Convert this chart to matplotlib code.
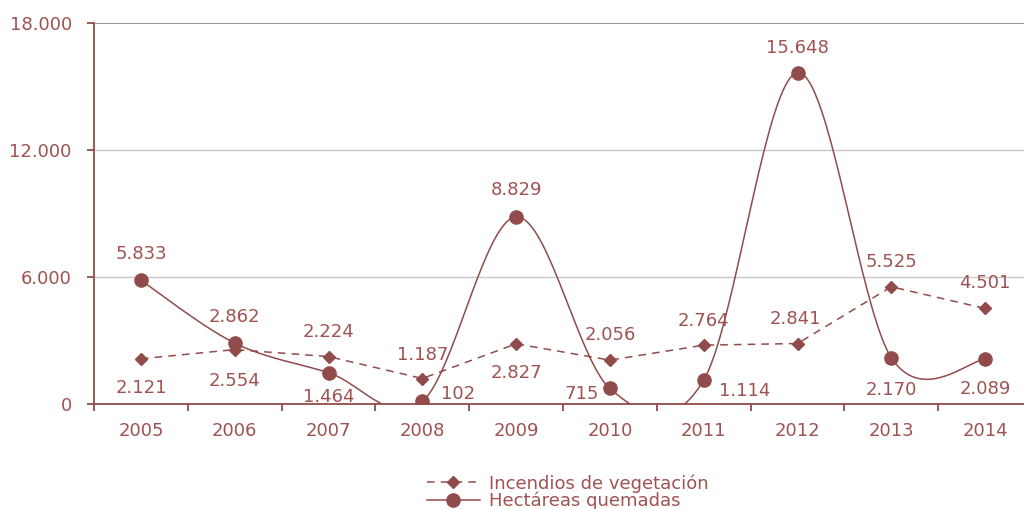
"""Incendios de vegetación y hectáreas quemadas, 2005-2014."""

import numpy as np
import matplotlib.pyplot as plt

years = ["2005", "2006", "2007", "2008", "2009",
         "2010", "2011", "2012", "2013", "2014"]
incendios = [2121, 2554, 2224, 1187, 2827, 2056, 2764, 2841, 5525, 4501]
hectareas = [5833, 2862, 1464, 102, 8829, 715, 1114, 15648, 2170, 2089]

# where each value label sits relative to its marker: (dx, dy) pixels, ha
inc_label_pos = [(0, -29, "center"), (0, -31, "center"), (0, 25, "center"),
                 (0, 24, "center"), (0, -29, "center"), (0, 25, "center"),
                 (0, 24, "center"), (-2, 25, "center"), (0, 25, "center"),
                 (0, 25, "center")]
hec_label_pos = [(0, 26, "center"), (0, 26, "center"), (0, -24, "center"),
                 (19, 7, "left"), (0, 27, "center"), (-11, -6, "right"),
                 (15, -11, "left"), (0, 25, "center"), (0, -32, "center"),
                 (0, -30, "center")]

LINE = "#924b4b"
TEXT = "#9f5252"
FS = 13


def fmt_thousands(v):
    """Format with a dot as thousands separator."""
    return f"{int(v):,}".replace(",", ".")


def smooth(x, y, steps=40):
    """Catmull-Rom style smoothing like a spreadsheet smoothed line."""
    x = np.asarray(x, float)
    y = np.asarray(y, float)
    n = len(x)
    xs, ys = [], []
    for i in range(n - 1):
        i0 = max(i - 1, 0)
        i3 = min(i + 2, n - 1)
        p0 = np.array([x[i], y[i]])
        p3 = np.array([x[i + 1], y[i + 1]])
        p1 = p0 + (np.array([x[i + 1], y[i + 1]]) - np.array([x[i0], y[i0]])) / 6
        p2 = p3 - (np.array([x[i3], y[i3]]) - np.array([x[i], y[i]])) / 6
        t = np.linspace(0, 1, steps)[:, None]
        pts = ((1 - t) ** 3 * p0 + 3 * (1 - t) ** 2 * t * p1
               + 3 * (1 - t) * t ** 2 * p2 + t ** 3 * p3)
        xs.extend(pts[:, 0])
        ys.extend(pts[:, 1])
    return np.array(xs), np.array(ys)


plt.rcParams["font.family"] = ["DejaVu Sans"]

fig = plt.figure(figsize=(10.24, 5.09), dpi=100)
ax = fig.add_axes([94 / 1024, 1 - 403.6 / 509, 938 / 1024, 380.6 / 509])

xpos = np.arange(len(years))

# incendios: dashed line with diamonds
ax.plot(xpos, incendios, color=LINE, lw=1.1, ls=(0, (5, 4)),
        marker="D", ms=6.5, mfc=LINE, mec=LINE, zorder=3,
        label="Incendios de vegetación")

# hectareas: smoothed solid line with circles
sx, sy = smooth(xpos, hectareas)
ax.plot(sx, sy, color=LINE, lw=1.1, zorder=3)
ax.plot(xpos, hectareas, ls="none", marker="o", ms=9.5,
        mfc=LINE, mec=LINE, zorder=4)
hec_handle = plt.Line2D([], [], color=LINE, lw=1.1, marker="o", ms=9.5,
                        mfc=LINE, mec=LINE)

for xi, v, (dx, dy, ha) in zip(xpos, incendios, inc_label_pos):
    ax.annotate(fmt_thousands(v), (xi, v), xytext=(dx, dy),
                textcoords="offset pixels", ha=ha, va="center",
                fontsize=FS, color=TEXT, annotation_clip=False)
for xi, v, (dx, dy, ha) in zip(xpos, hectareas, hec_label_pos):
    ax.annotate(fmt_thousands(v), (xi, v), xytext=(dx, dy),
                textcoords="offset pixels", ha=ha, va="center",
                fontsize=FS, color=TEXT, annotation_clip=False)

ax.set_xlim(-0.5, len(years) - 0.5)
ax.set_ylim(0, 18000)

ax.set_yticks([0, 6000, 12000, 18000])
ax.set_yticklabels([fmt_thousands(v) for v in [0, 6000, 12000, 18000]])
ax.set_xticks(xpos)
ax.set_xticklabels(years)
ax.set_xticks(np.arange(-0.5, len(years), 1), minor=True)

ax.tick_params(axis="y", colors=LINE, labelcolor=TEXT, labelsize=FS,
               length=5, width=1.3, pad=11)
ax.tick_params(axis="x", which="major", length=0, labelcolor=TEXT,
               labelsize=FS, pad=13)
ax.tick_params(axis="x", which="minor", colors=LINE, length=5, width=1.3)

for side in ["top", "right"]:
    ax.spines[side].set_visible(False)
for side in ["left", "bottom"]:
    ax.spines[side].set_color(LINE)
    ax.spines[side].set_linewidth(1.3)

for v, c in [(6000, "#c8c8c8"), (12000, "#c8c8c8"), (18000, "#8c8c8c")]:
    ax.axhline(v, color=c, lw=1.3 if v == 18000 else 1.0, zorder=1)

handles, labels = ax.get_legend_handles_labels()
leg = fig.legend(handles + [hec_handle], labels + ["Hectáreas quemadas"],
                 loc="upper left", bbox_to_anchor=(420 / 1024, 1 - 467 / 509),
                 frameon=False, fontsize=FS, handlelength=2.9,
                 handletextpad=0.5, labelspacing=-0.05, borderaxespad=0)
for t in leg.get_texts():
    t.set_color(TEXT)

fig.savefig("out.png", dpi=100)
